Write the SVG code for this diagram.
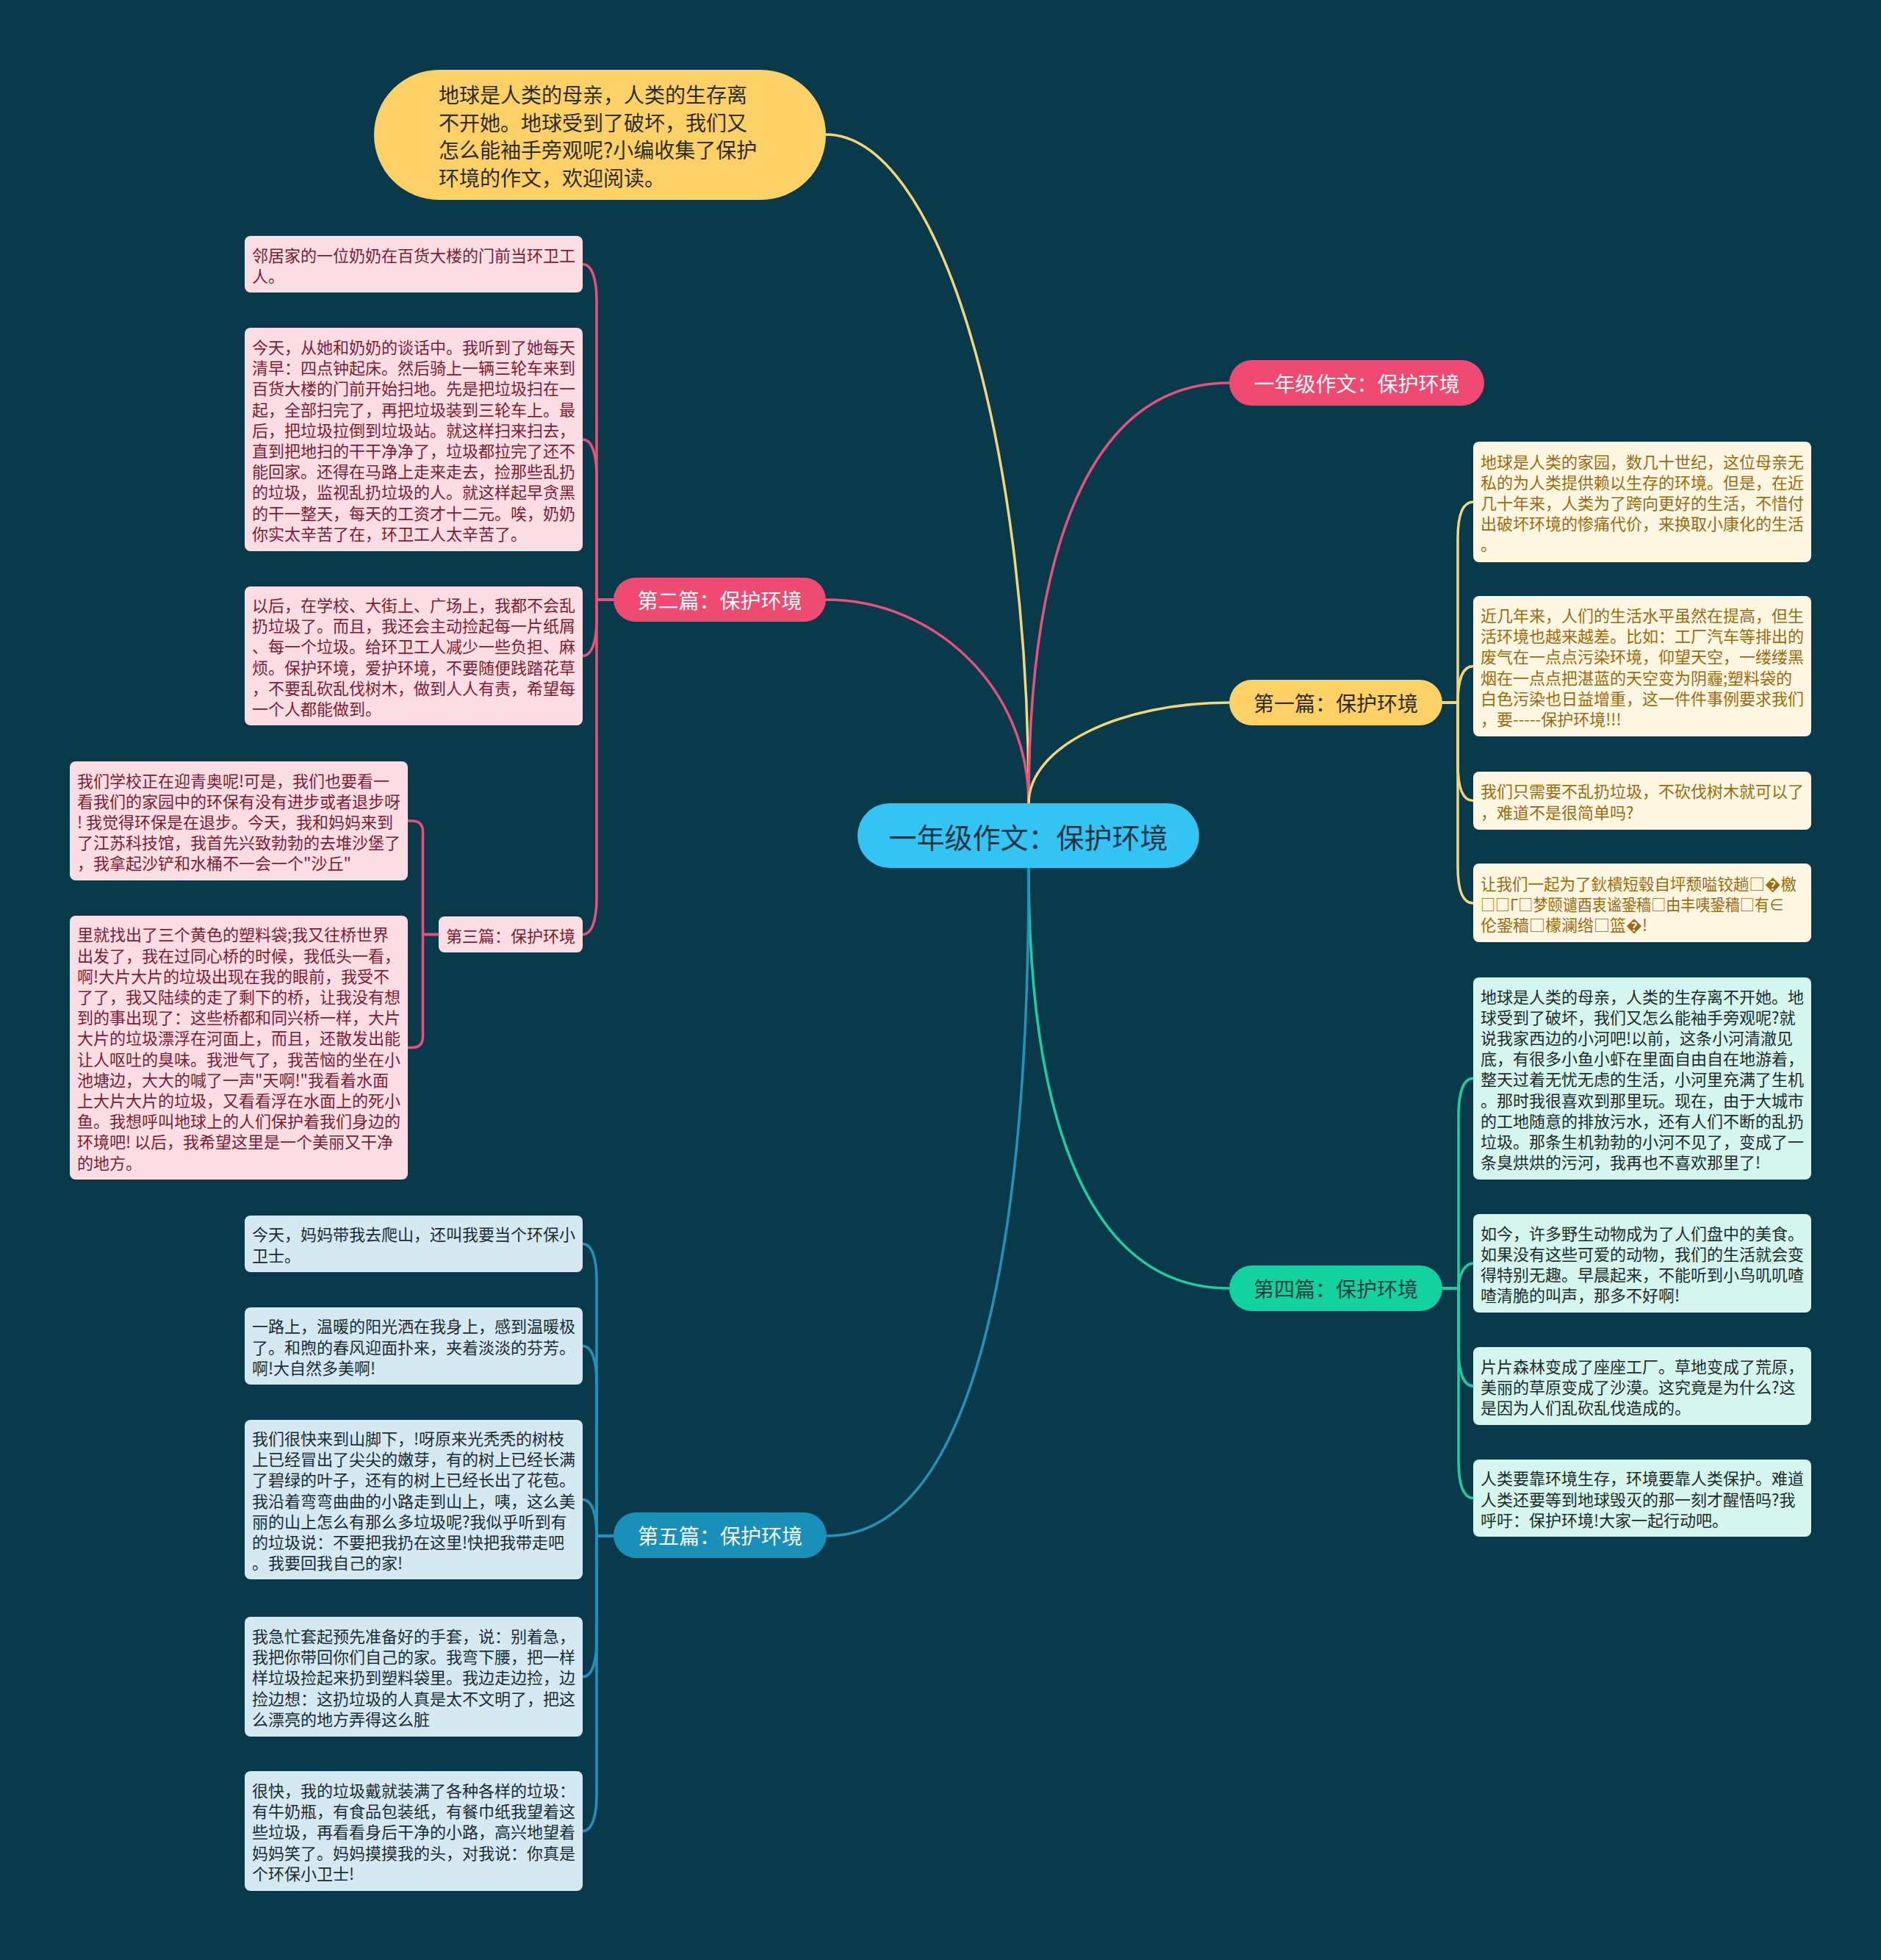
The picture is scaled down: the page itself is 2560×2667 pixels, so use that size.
<svg xmlns="http://www.w3.org/2000/svg" width="2560" height="2667" viewBox="0 0 2560 2667">
<style>
text, tspan { font-family: "Noto Sans CJK SC", "Noto Sans", "DejaVu Sans", sans-serif; dominant-baseline: central; }
.leaf text { font-size: 22px; }
.lp rect { fill: #fcdde4; } .lp text { fill: #7b1d33; }
.ly rect { fill: #fff7e2; } .ly text { fill: #9b6b10; }
.lg rect { fill: #d4f6ee; } .lg text { fill: #1e2b2b; }
.lb rect { fill: #d4e9f2; } .lb text { fill: #1d2b33; }
.pill text { font-size: 28px; text-anchor: middle; }
.conn path { fill: none; stroke-width: 3.5; stroke-linecap: round; }
.cp { stroke: #e9507a; } .cy { stroke: #f2d677; } .cg { stroke: #1ccfa0; } .cb { stroke: #2392bb; }
</style>
<rect x="0" y="0" width="2560" height="2667" fill="#093a4c"/>

<g id="connectors" class="conn">
  <!-- main branches -->
  <path class="cy" d="M1400,1093 C1400,591 1276,183 1124,183"/>
  <path class="cp" d="M1400,1093 C1400,940 1276,816 1124,816"/>
  <path class="cp" d="M1400,1093 C1400,750 1482,521 1673,521"/>
  <path class="cy" d="M1400,1093 C1400,1017 1522,956 1673,956"/>
  <path class="cg" d="M1400,1181 C1400,1525 1482,1753 1673,1753"/>
  <path class="cb" d="M1400,1181 C1400,1727 1318,2090 1125,2090"/>
  <!-- 第二篇 children -->
  <path class="cp" d="M835,816 H812 V409.5 C812,377.5 805,359.5 793,359.5"/>
  <path class="cp" d="M835,816 H812 V648 C812,616 805,598 793,598"/>
  <path class="cp" d="M835,816 H812 V842.4 C812,874.4 805,892.4 793,892.4"/>
  <path class="cp" d="M835,816 H812 V1221.5 C812,1253.5 805,1271.5 793,1271.5"/>
  <!-- 第三篇 children -->
  <path class="cp" d="M597,1271.5 H575.5 V1132 Q575.5,1117 560.5,1117 H554.6"/>
  <path class="cp" d="M597,1271.5 H575.5 V1410.5 Q575.5,1425.5 560.5,1425.5 H554.6"/>
  <!-- 第五篇 children -->
  <path class="cb" d="M835,2090 H812 V1742.5 C812,1710.5 805,1692.5 793,1692.5"/>
  <path class="cb" d="M835,2090 H812 V1881.5 C812,1849.5 805,1831.5 793,1831.5"/>
  <path class="cb" d="M835,2090 H812 C812,2058.5 805,2040.5 793,2040.5"/>
  <path class="cb" d="M835,2090 H812 V2231.5 C812,2263.5 805,2281.5 793,2281.5"/>
  <path class="cb" d="M835,2090 H812 V2441.5 C812,2473.5 805,2491.5 793,2491.5"/>
  <!-- 第一篇 children -->
  <path class="cy" d="M1963,956 H1984 V733 C1984,701 1991,683 2005,683"/>
  <path class="cy" d="M1963,956 H1984 C1984,924.5 1991,906.5 2005,906.5"/>
  <path class="cy" d="M1963,956 H1984 V1039.5 C1984,1071.5 1991,1089.5 2005,1089.5"/>
  <path class="cy" d="M1963,956 H1984 V1179 C1984,1211 1991,1229 2005,1229"/>
  <!-- 第四篇 children -->
  <path class="cg" d="M1963,1753 H1985 V1517.3 C1985,1485.3 1992,1467.3 2005,1467.3"/>
  <path class="cg" d="M1963,1753 H1985 C1985,1737 1992,1719 2005,1719"/>
  <path class="cg" d="M1963,1753 H1985 V1836 C1985,1868 1992,1886 2005,1886"/>
  <path class="cg" d="M1963,1753 H1985 V1988.5 C1985,2020.5 1992,2038.5 2005,2038.5"/>
</g>

<g id="root">
  <rect x="1167" y="1093" width="465" height="88" rx="44" fill="#33c4f3"/>
  <text x="1399.5" y="1137" font-size="38" text-anchor="middle" fill="#1c3441">一年级作文：保护环境</text>
</g>

<g id="intro">
  <rect x="509" y="95" width="615" height="177" rx="88.5" fill="#fdd165"/>
  <text font-size="28" fill="#2d2d2d">
    <tspan x="597" y="128">地球是人类的母亲，人类的生存离</tspan>
    <tspan x="597" y="165.5">不开她。地球受到了破坏，我们又</tspan>
    <tspan x="597" y="203">怎么能袖手旁观呢?小编收集了保护</tspan>
    <tspan x="597" y="240.5">环境的作文，欢迎阅读。</tspan>
  </text>
</g>

<g id="title-right" class="pill">
  <rect x="1673" y="490" width="347" height="62" rx="31" fill="#ef4a72"/>
  <text x="1846.5" y="521" fill="#ffffff">一年级作文：保护环境</text>
</g>

<g id="p2" class="pill">
  <rect x="835" y="786" width="289" height="60" rx="30" fill="#ef4a72"/>
  <text x="979.5" y="816" fill="#ffffff">第二篇：保护环境</text>
</g>

<g id="p1" class="pill">
  <rect x="1673" y="925" width="290" height="62" rx="31" fill="#fdd165"/>
  <text x="1818" y="956" fill="#2d2d2d">第一篇：保护环境</text>
</g>

<g id="p4" class="pill">
  <rect x="1673" y="1722" width="290" height="62" rx="31" fill="#12d39f"/>
  <text x="1818" y="1753" fill="#1f3d3d">第四篇：保护环境</text>
</g>

<g id="p5" class="pill">
  <rect x="835" y="2058" width="290" height="62" rx="31" fill="#1890ba"/>
  <text x="980" y="2089" fill="#ffffff">第五篇：保护环境</text>
</g>

<g id="p3" class="leaf lp">
  <rect x="597" y="1247" width="196" height="49" rx="8"/>
  <text x="607" y="1271.5">第三篇：保护环境</text>
</g>

<g id="p2a" class="leaf lp">
  <rect x="333" y="321" width="460" height="77" rx="8"/>
  <text><tspan x="343" y="345.5">邻居家的一位奶奶在百货大楼的门前当环卫工</tspan><tspan x="343" y="373.7">人。</tspan></text>
</g>

<g id="p2b" class="leaf lp">
  <rect x="333" y="446" width="460" height="304" rx="8"/>
  <text>
    <tspan x="343" y="471">今天，从她和奶奶的谈话中。我听到了她每天</tspan>
    <tspan x="343" y="499.2">清早：四点钟起床。然后骑上一辆三轮车来到</tspan>
    <tspan x="343" y="527.4">百货大楼的门前开始扫地。先是把垃圾扫在一</tspan>
    <tspan x="343" y="555.6">起，全部扫完了，再把垃圾装到三轮车上。最</tspan>
    <tspan x="343" y="583.8">后，把垃圾拉倒到垃圾站。就这样扫来扫去，</tspan>
    <tspan x="343" y="612">直到把地扫的干干净净了，垃圾都拉完了还不</tspan>
    <tspan x="343" y="640.2">能回家。还得在马路上走来走去，捡那些乱扔</tspan>
    <tspan x="343" y="668.4">的垃圾，监视乱扔垃圾的人。就这样起早贪黑</tspan>
    <tspan x="343" y="696.6">的干一整天，每天的工资才十二元。唉，奶奶</tspan>
    <tspan x="343" y="724.8">你实太辛苦了在，环卫工人太辛苦了。</tspan>
  </text>
</g>

<g id="p2c" class="leaf lp">
  <rect x="333" y="798" width="460" height="189" rx="8"/>
  <text>
    <tspan x="343" y="822">以后，在学校、大街上、广场上，我都不会乱</tspan>
    <tspan x="343" y="850.2">扔垃圾了。而且，我还会主动捡起每一片纸屑</tspan>
    <tspan x="343" y="878.4">、每一个垃圾。给环卫工人减少一些负担、麻</tspan>
    <tspan x="343" y="906.6">烦。保护环境，爱护环境，不要随便践踏花草</tspan>
    <tspan x="343" y="934.8">，不要乱砍乱伐树木，做到人人有责，希望每</tspan>
    <tspan x="343" y="963">一个人都能做到。</tspan>
  </text>
</g>

<g id="p3a" class="leaf lp">
  <rect x="95" y="1036" width="460" height="162" rx="8"/>
  <text>
    <tspan x="105" y="1060.6">我们学校正在迎青奥呢!可是，我们也要看一</tspan>
    <tspan x="105" y="1088.8">看我们的家园中的环保有没有进步或者退步呀</tspan>
    <tspan x="105" y="1117">! 我觉得环保是在退步。今天，我和妈妈来到</tspan>
    <tspan x="105" y="1145.2">了江苏科技馆，我首先兴致勃勃的去堆沙堡了</tspan>
    <tspan x="105" y="1173.4">，我拿起沙铲和水桶不一会一个"沙丘"</tspan>
  </text>
</g>

<g id="p3b" class="leaf lp">
  <rect x="95" y="1246" width="460" height="359" rx="8"/>
  <text>
    <tspan x="105" y="1270.4">里就找出了三个黄色的塑料袋;我又往桥世界</tspan>
    <tspan x="105" y="1298.6">出发了，我在过同心桥的时候，我低头一看，</tspan>
    <tspan x="105" y="1326.8">啊!大片大片的垃圾出现在我的眼前，我受不</tspan>
    <tspan x="105" y="1355">了了，我又陆续的走了剩下的桥，让我没有想</tspan>
    <tspan x="105" y="1383.2">到的事出现了：这些桥都和同兴桥一样，大片</tspan>
    <tspan x="105" y="1411.4">大片的垃圾漂浮在河面上，而且，还散发出能</tspan>
    <tspan x="105" y="1439.6">让人呕吐的臭味。我泄气了，我苦恼的坐在小</tspan>
    <tspan x="105" y="1467.8">池塘边，大大的喊了一声"天啊!"我看着水面</tspan>
    <tspan x="105" y="1496">上大片大片的垃圾，又看看浮在水面上的死小</tspan>
    <tspan x="105" y="1524.2">鱼。我想呼叫地球上的人们保护着我们身边的</tspan>
    <tspan x="105" y="1552.4">环境吧! 以后，我希望这里是一个美丽又干净</tspan>
    <tspan x="105" y="1580.6">的地方。</tspan>
  </text>
</g>

<g id="p5a" class="leaf lb">
  <rect x="333" y="1654" width="460" height="77" rx="8"/>
  <text><tspan x="343" y="1678.4">今天，妈妈带我去爬山，还叫我要当个环保小</tspan><tspan x="343" y="1706.6">卫士。</tspan></text>
</g>

<g id="p5b" class="leaf lb">
  <rect x="333" y="1779" width="460" height="105" rx="8"/>
  <text>
    <tspan x="343" y="1803.3">一路上，温暖的阳光洒在我身上，感到温暖极</tspan>
    <tspan x="343" y="1831.5">了。和煦的春风迎面扑来，夹着淡淡的芬芳。</tspan>
    <tspan x="343" y="1859.7">啊!大自然多美啊!</tspan>
  </text>
</g>

<g id="p5c" class="leaf lb">
  <rect x="333" y="1932" width="460" height="217" rx="8"/>
  <text>
    <tspan x="343" y="1956">我们很快来到山脚下，!呀原来光秃秃的树枝</tspan>
    <tspan x="343" y="1984.2">上已经冒出了尖尖的嫩芽，有的树上已经长满</tspan>
    <tspan x="343" y="2012.4">了碧绿的叶子，还有的树上已经长出了花苞。</tspan>
    <tspan x="343" y="2040.6">我沿着弯弯曲曲的小路走到山上，咦，这么美</tspan>
    <tspan x="343" y="2068.8">丽的山上怎么有那么多垃圾呢?我似乎听到有</tspan>
    <tspan x="343" y="2097">的垃圾说：不要把我扔在这里!快把我带走吧</tspan>
    <tspan x="343" y="2125.2">。我要回我自己的家!</tspan>
  </text>
</g>

<g id="p5d" class="leaf lb">
  <rect x="333" y="2200" width="460" height="163" rx="8"/>
  <text>
    <tspan x="343" y="2225">我急忙套起预先准备好的手套，说：别着急，</tspan>
    <tspan x="343" y="2253.2">我把你带回你们自己的家。我弯下腰，把一样</tspan>
    <tspan x="343" y="2281.4">样垃圾捡起来扔到塑料袋里。我边走边捡，边</tspan>
    <tspan x="343" y="2309.6">捡边想：这扔垃圾的人真是太不文明了，把这</tspan>
    <tspan x="343" y="2337.8">么漂亮的地方弄得这么脏</tspan>
  </text>
</g>

<g id="p5e" class="leaf lb">
  <rect x="333" y="2410" width="460" height="163" rx="8"/>
  <text>
    <tspan x="343" y="2435">很快，我的垃圾戴就装满了各种各样的垃圾：</tspan>
    <tspan x="343" y="2463.2">有牛奶瓶，有食品包装纸，有餐巾纸我望着这</tspan>
    <tspan x="343" y="2491.4">些垃圾，再看看身后干净的小路，高兴地望着</tspan>
    <tspan x="343" y="2519.6">妈妈笑了。妈妈摸摸我的头，对我说：你真是</tspan>
    <tspan x="343" y="2547.8">个环保小卫士!</tspan>
  </text>
</g>

<g id="p1a" class="leaf ly">
  <rect x="2005" y="601" width="460" height="164" rx="8"/>
  <text>
    <tspan x="2015" y="626.6">地球是人类的家园，数几十世纪，这位母亲无</tspan>
    <tspan x="2015" y="654.8">私的为人类提供赖以生存的环境。但是，在近</tspan>
    <tspan x="2015" y="683">几十年来，人类为了跨向更好的生活，不惜付</tspan>
    <tspan x="2015" y="711.2">出破坏环境的惨痛代价，来换取小康化的生活</tspan>
    <tspan x="2015" y="739.4">。</tspan>
  </text>
</g>

<g id="p1b" class="leaf ly">
  <rect x="2005" y="811" width="460" height="191" rx="8"/>
  <text>
    <tspan x="2015" y="836">近几年来，人们的生活水平虽然在提高，但生</tspan>
    <tspan x="2015" y="864.2">活环境也越来越差。比如：工厂汽车等排出的</tspan>
    <tspan x="2015" y="892.4">废气在一点点污染环境，仰望天空，一缕缕黑</tspan>
    <tspan x="2015" y="920.6">烟在一点点把湛蓝的天空变为阴霾;塑料袋的</tspan>
    <tspan x="2015" y="948.8">白色污染也日益增重，这一件件事例要求我们</tspan>
    <tspan x="2015" y="977">，要-----保护环境!!!</tspan>
  </text>
</g>

<g id="p1c" class="leaf ly">
  <rect x="2005" y="1050" width="460" height="79" rx="8"/>
  <text><tspan x="2015" y="1075.4">我们只需要不乱扔垃圾，不砍伐树木就可以了</tspan><tspan x="2015" y="1103.6">，难道不是很简单吗?</tspan></text>
</g>

<g id="p1d" class="leaf ly">
  <rect x="2005" y="1175" width="460" height="107" rx="8"/>
  <text x="2015" y="1200.8" textLength="430" lengthAdjust="spacingAndGlyphs">让我们一起为了鈥樻短毂自坪颓嗌铰趟□�檄</text>
  <text x="2015" y="1229" textLength="413" lengthAdjust="spacingAndGlyphs">□□Γ□梦颐谴酉衷谧銎穑□由丰咦銎穑□有∈</text>
  <text x="2015" y="1257.2">伦銎穑□檬澜绺□篮�!</text>
</g>

<g id="p4a" class="leaf lg">
  <rect x="2005" y="1330" width="460" height="275" rx="8"/>
  <text>
    <tspan x="2015" y="1354.5">地球是人类的母亲，人类的生存离不开她。地</tspan>
    <tspan x="2015" y="1382.7">球受到了破坏，我们又怎么能袖手旁观呢?就</tspan>
    <tspan x="2015" y="1410.9">说我家西边的小河吧!以前，这条小河清澈见</tspan>
    <tspan x="2015" y="1439.1">底，有很多小鱼小虾在里面自由自在地游着，</tspan>
    <tspan x="2015" y="1467.3">整天过着无忧无虑的生活，小河里充满了生机</tspan>
    <tspan x="2015" y="1495.5">。那时我很喜欢到那里玩。现在，由于大城市</tspan>
    <tspan x="2015" y="1523.7">的工地随意的排放污水，还有人们不断的乱扔</tspan>
    <tspan x="2015" y="1551.9">垃圾。那条生机勃勃的小河不见了，变成了一</tspan>
    <tspan x="2015" y="1580.1">条臭烘烘的污河，我再也不喜欢那里了!</tspan>
  </text>
</g>

<g id="p4b" class="leaf lg">
  <rect x="2005" y="1652" width="460" height="134" rx="8"/>
  <text>
    <tspan x="2015" y="1676.7">如今，许多野生动物成为了人们盘中的美食。</tspan>
    <tspan x="2015" y="1704.9">如果没有这些可爱的动物，我们的生活就会变</tspan>
    <tspan x="2015" y="1733.1">得特别无趣。早晨起来，不能听到小鸟叽叽喳</tspan>
    <tspan x="2015" y="1761.3">喳清脆的叫声，那多不好啊!</tspan>
  </text>
</g>

<g id="p4c" class="leaf lg">
  <rect x="2005" y="1833" width="460" height="106" rx="8"/>
  <text>
    <tspan x="2015" y="1857.8">片片森林变成了座座工厂。草地变成了荒原，</tspan>
    <tspan x="2015" y="1886">美丽的草原变成了沙漠。这究竟是为什么?这</tspan>
    <tspan x="2015" y="1914.2">是因为人们乱砍乱伐造成的。</tspan>
  </text>
</g>

<g id="p4d" class="leaf lg">
  <rect x="2005" y="1986" width="460" height="105" rx="8"/>
  <text>
    <tspan x="2015" y="2010.3">人类要靠环境生存，环境要靠人类保护。难道</tspan>
    <tspan x="2015" y="2038.5">人类还要等到地球毁灭的那一刻才醒悟吗?我</tspan>
    <tspan x="2015" y="2066.7">呼吁：保护环境!大家一起行动吧。</tspan>
  </text>
</g>
</svg>
